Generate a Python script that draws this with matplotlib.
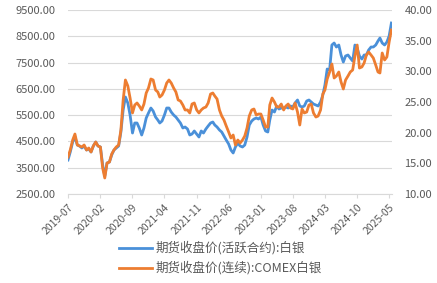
import numpy as np
import pandas as pd
import matplotlib
matplotlib.use("Agg")
import matplotlib.pyplot as plt

plt.rcParams['font.family'] = ['Noto Sans CJK SC', 'DejaVu Sans']

# semi-monthly readings, 2019-07 .. 2025-05 (1st and 16th of each month)
months = pd.date_range("2019-07-01", "2025-05-01", freq="MS")
dates = []
for m in months:
    dates.append(m)
    dates.append(m + pd.Timedelta(days=15))

shfe_silver = [
    3793, 4098, 4478, 4668, 4364, 4326, 4250, 4326, 4174, 4212,
    4098, 4326, 4478, 4326, 4288, 3603, 3185, 3679, 3717, 3984,
    4174, 4250, 4326, 4858, 5695, 6190, 5962, 5505, 4820, 5201,
    5201, 5011, 4744, 5011, 5391, 5581, 5771, 5657, 5429, 5315,
    5201, 5277, 5505, 5771, 5771, 5619, 5505, 5429, 5315, 5201,
    5011, 5049, 4973, 4744, 4782, 4897, 4782, 4668, 4897, 4820,
    4973, 5087, 5201, 5239, 5125, 5049, 4935, 4858, 4706, 4554,
    4402, 4174, 4060, 4288, 4440, 4326, 4288, 4364, 4668, 5125,
    5277, 5353, 5391, 5353, 5429, 5125, 4897, 4858, 5315, 5695,
    5619, 5848, 5733, 5771, 5771, 5810, 5771, 5848, 5810, 5962,
    6076, 5848, 5810, 5848, 6038, 6076, 6000, 5924, 5886, 5848,
    6000, 6266, 6646, 7255, 7217, 8168, 8244, 8092, 8168, 7788,
    7521, 7750, 7788, 7673, 7559, 8168, 8054, 7750, 7635, 7788,
    7788, 7978, 8092, 8092, 8168, 8320, 8434, 8244, 8168, 8282,
    8510, 9005,
]

comex_silver = [
    16.03, 17.17, 18.80, 19.78, 17.99, 17.83, 17.66, 17.99, 17.17, 17.50,
    16.85, 17.83, 18.48, 17.83, 17.66, 14.24, 12.61, 15.05, 15.22, 16.52,
    17.17, 17.66, 17.99, 20.43, 25.33, 28.59, 27.61, 25.65, 23.21, 24.51,
    24.84, 24.35, 23.70, 24.67, 26.47, 27.28, 28.75, 28.59, 26.96, 26.63,
    25.81, 26.14, 26.96, 28.10, 28.59, 28.10, 27.28, 26.63, 25.33, 25.16,
    24.51, 23.70, 23.70, 23.21, 24.67, 24.84, 23.70, 23.21, 23.70, 24.02,
    24.18, 24.84, 26.30, 26.47, 25.98, 25.49, 23.70, 22.72, 22.06, 21.09,
    20.11, 19.13, 19.62, 17.99, 18.80, 18.31, 18.80, 19.46, 20.76, 22.72,
    23.70, 23.86, 22.88, 23.04, 23.04, 22.06, 20.92, 20.92, 24.51, 25.65,
    25.00, 24.18, 24.18, 24.67, 23.70, 24.35, 24.67, 24.02, 23.86, 24.84,
    23.37, 21.25, 23.86, 23.21, 23.37, 24.51, 24.67, 23.21, 22.55, 22.72,
    23.70, 26.30, 26.96, 28.75, 29.89, 31.20, 28.91, 29.24, 29.89, 28.26,
    27.12, 28.59, 29.24, 29.89, 30.22, 32.50, 34.29, 30.54, 30.71, 31.36,
    32.66, 33.15, 32.66, 32.17, 31.03, 29.89, 29.73, 32.99, 31.85, 32.34,
    34.78, 36.74,
]

tick_labels = ["2019-07", "2020-02", "2020-09", "2021-04", "2021-11", "2022-06",
               "2023-01", "2023-08", "2024-03", "2024-10", "2025-05"]

blue = "#4a90d9"
orange = "#ed7d31"
grey = "#595959"

fig = plt.figure(figsize=(4.37, 2.83), dpi=100)
ax = fig.add_axes([68 / 437, 1 - 194 / 283, 324 / 437, 184 / 283])
ax2 = ax.twinx()

l1, = ax.plot(dates, shfe_silver, color=blue, lw=2.0, label="期货收盘价(活跃合约):白银")
l2, = ax2.plot(dates, comex_silver, color=orange, lw=2.0, label="期货收盘价(连续):COMEX白银")

ax.set_ylim(2500, 9500)
ax.set_yticks(np.arange(2500, 9501, 1000))
ax.set_yticklabels([f"{v:.2f}" for v in np.arange(2500, 9501, 1000)])
ax2.set_ylim(10, 40)
ax2.set_yticks(np.arange(10, 41, 5))
ax2.set_yticklabels([f"{v:.2f}" for v in np.arange(10, 41, 5)])

ax.set_xlim(pd.Timestamp("2019-07-01"), pd.Timestamp("2025-05-20"))
ticks = [pd.Timestamp(t + "-01") for t in tick_labels]
ax.set_xticks(ticks)
ax.set_xticklabels(tick_labels, rotation=45, ha="right", rotation_mode="anchor")

ax.grid(axis="y", color="#d9d9d9", lw=0.8)
ax.set_axisbelow(True)
for a in (ax, ax2):
    for s in a.spines.values():
        s.set_visible(False)
ax.spines["bottom"].set_visible(True)
ax.spines["bottom"].set_color("#d9d9d9")

ax.tick_params(axis="y", length=0, pad=9, labelsize=8, labelcolor=grey)
ax2.tick_params(axis="y", length=0, pad=9, labelsize=8, labelcolor=grey)
ax.tick_params(axis="x", length=3, color="#d9d9d9", pad=3, labelsize=7.5, labelcolor=grey)

fig.legend(handles=[l1, l2], loc="center", bbox_to_anchor=(0.505, 0.088), ncol=1,
           frameon=False, fontsize=9, labelcolor=grey, handlelength=2.6,
           handletextpad=0.3, labelspacing=0.5, borderpad=0)

fig.savefig("out.png", dpi=100)
